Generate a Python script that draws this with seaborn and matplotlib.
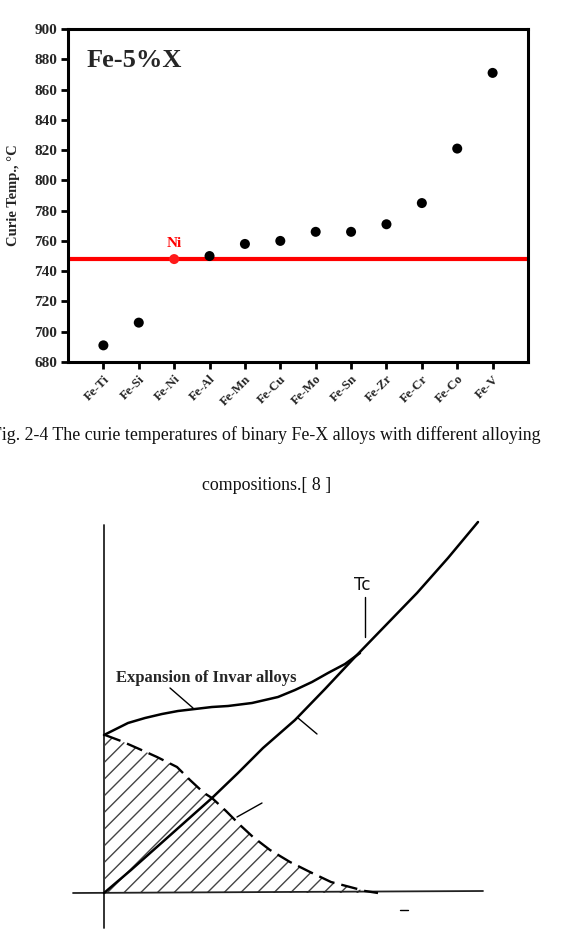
import numpy as np
import pandas as pd
import matplotlib
matplotlib.use("Agg")
import matplotlib.pyplot as plt
import seaborn as sns

# ---------------- data: top chart ----------------
alloys = ["Fe-Ti", "Fe-Si", "Fe-Ni", "Fe-Al", "Fe-Mn", "Fe-Cu",
          "Fe-Mo", "Fe-Sn", "Fe-Zr", "Fe-Cr", "Fe-Co", "Fe-V"]
curie_temps = [691, 706, 748, 750, 758, 760, 766, 766, 771, 785, 821, 871]
ni_reference = 748
y_ticks = [680, 700, 720, 740, 760, 780, 800, 820, 840, 860, 880, 900]

# ---------------- data: schematic (arbitrary units) ----------------
invar_x = [0, 12, 24, 41, 58, 74, 91, 108, 124, 148, 174, 191, 208, 224, 241, 256]
invar_y = [158, 164, 170, 175, 179, 182, 184, 186, 187, 190, 196, 203, 211, 220, 229, 240]
normal_x = [0, 27, 54, 81, 108, 134, 159, 191, 221, 251, 282, 313, 344, 374]
normal_y = [0, 23, 47, 71, 95, 120, 145, 173, 204, 236, 268, 300, 335, 371]
magneto_x = [1, 17, 33, 53, 73, 86, 100, 108, 122, 136, 149, 166, 186, 206, 227, 246, 261, 274]
magneto_y = [158, 152, 145, 136, 126, 113, 100, 95, 82, 68, 56, 43, 31, 21, 11, 6, 2, 0]

sns.set_theme(style="white")
plt.rcParams["font.family"] = ["Liberation Serif", "DejaVu Serif"]
plt.rcParams["hatch.linewidth"] = 1.0

W, H = 585, 952
fig = plt.figure(figsize=(W / 100, H / 100), dpi=100)
fig.patch.set_facecolor("white")

# ---------------- top chart ----------------
ax = fig.add_axes([68 / W, 1 - 362 / H, 460 / W, 333 / H])
df = pd.DataFrame({"alloy": alloys, "T": curie_temps})
df["kind"] = np.where(df["alloy"] == "Fe-Ni", "ref", "other")
ax.axhline(ni_reference, color="#ff0000", lw=3, zorder=2)
sns.scatterplot(data=df, x="alloy", y="T", hue="kind",
                palette={"ref": "#ff1a1a", "other": "black"},
                s=52, edgecolor="none", legend=False, zorder=3, ax=ax)
ax.set_xlim(-1, len(alloys))
ax.set_ylim(680, 900)
ax.set_yticks(y_ticks)
ax.set_yticklabels([str(t) for t in y_ticks], fontsize=11, fontweight="bold")
ax.set_xticks(range(len(alloys)))
ax.set_xticklabels(alloys, fontsize=9.3, fontweight="bold", rotation=45,
                   ha="right", rotation_mode="anchor")
ax.set_xlabel("")
ax.set_ylabel("Curie Temp., °C", fontsize=10.5, fontweight="bold", labelpad=10)
for s in ax.spines.values():
    s.set_color("black")
    s.set_linewidth(2.2)
ax.tick_params(axis="both", which="both", direction="out", length=5, width=2,
               color="black", bottom=True, left=True, top=False, right=False, pad=3)
ax.text(0.04, 0.905, "Fe-5%X", transform=ax.transAxes, fontsize=19,
        fontweight="bold", ha="left", va="center")
ni_idx = alloys.index("Fe-Ni")
ax.text(ni_idx, ni_reference + 6, "Ni", color="#ff0000", fontsize=11,
        fontweight="bold", ha="center", va="bottom")

# ---------------- captions ----------------
fig.text(541 / W, 1 - 435 / H,
         "Fig. 2-4 The curie temperatures of binary Fe-X alloys with different alloying",
         fontsize=12.9, ha="right", va="center", color="#111111")
fig.text(267 / W, 1 - 486 / H, "compositions.[ 8 ]", fontsize=12.9,
         ha="center", va="center", color="#111111")

# ---------------- schematic ----------------
bx = fig.add_axes([0, 0, 1, 1], zorder=-1)
bx.set_xlim(-104, W - 104)
bx.set_ylim(-(H - 893), 893)
bx.axis("off")
bx.patch.set_alpha(0)
# axes lines
bx.plot([-31, 379], [0, 2], color="#222222", lw=1.3)
bx.plot([0, 0], [-35, 368], color="#222222", lw=1.3)
# hatched magnetic contribution
bx.fill_between(magneto_x, magneto_y, 0, facecolor="none",
                edgecolor="#444444", hatch="//", linewidth=0)
bx.plot(magneto_x, magneto_y, color="black", lw=1.7, dashes=(7, 3))
# expansion curves
bx.plot(normal_x, normal_y, color="black", lw=1.8)
bx.plot(invar_x, invar_y, color="black", lw=1.8)
# leaders
bx.plot([66, 89], [205, 185], color="black", lw=1.0)
bx.plot([194, 213], [175, 159], color="black", lw=1.0)
bx.plot([133, 158], [76, 90], color="black", lw=1.0)
bx.plot([261, 261], [296, 256], color="black", lw=1.0)
bx.plot([296, 304], [-17, -17], color="black", lw=1.0)
bx.text(258, 308, "Tc", fontsize=12, family="DejaVu Sans", ha="center",
        va="center", color="#111111")
bx.text(12, 215, "Expansion of Invar alloys", fontsize=12, fontweight="bold",
        ha="left", va="center")

fig.savefig("out.png", dpi=100, facecolor="white")
